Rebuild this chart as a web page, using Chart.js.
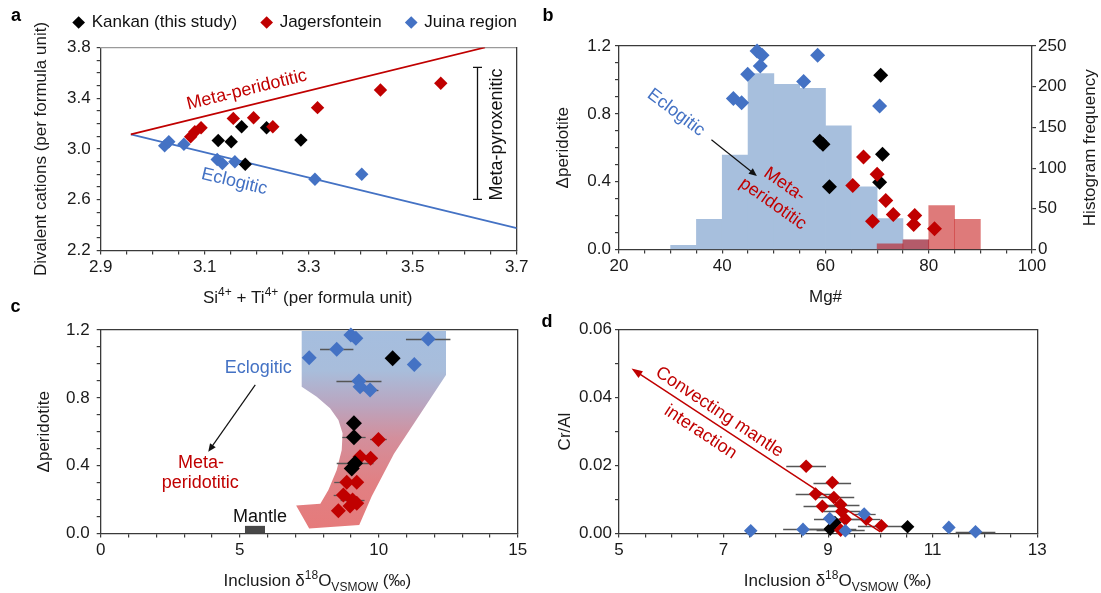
<!DOCTYPE html>
<html lang="en"><head><meta charset="utf-8"><title>Garnet inclusion figure</title>
<script src="https://cdn.jsdelivr.net/npm/chart.js@4.4.1/dist/chart.umd.min.js"></script>
<style>
html,body{margin:0;padding:0;background:#ffffff;}
body{position:relative;width:1101px;height:593px;overflow:hidden;}
canvas{position:absolute;}
</style></head><body>
<canvas id="chartA" width="591" height="310" style="left:0px;top:0px"></canvas>
<canvas id="chartB" width="571" height="310" style="left:530px;top:0px"></canvas>
<canvas id="chartC" width="550" height="293" style="left:0px;top:300px"></canvas>
<canvas id="chartD" width="571" height="293" style="left:530px;top:300px"></canvas>
<script>
// ================= DATA =================
// Panel a: Si4+ + Ti4+ vs divalent cations
const aKankanSi  = [3.126, 3.151, 3.171, 3.219, 3.285, 3.178];
const aKankanDiv = [3.067, 3.057, 3.175, 3.167, 3.070, 2.880];
const aJagerSi   = [3.073, 3.081, 3.093, 3.155, 3.194, 3.231, 3.317, 3.438, 3.554];
const aJagerDiv  = [3.096, 3.136, 3.167, 3.241, 3.246, 3.175, 3.326, 3.465, 3.518];
const aJuinaSi   = [3.023, 3.031, 3.060, 3.124, 3.134, 3.158, 3.312, 3.402];
const aJuinaDiv  = [3.025, 3.057, 3.038, 2.917, 2.885, 2.899, 2.762, 2.801];
const aMetaPeridLineSi  = [2.958, 3.639];
const aMetaPeridLineDiv = [3.115, 3.800];
const aEclogLineSi  = [2.958, 3.700];
const aEclogLineDiv = [3.115, 2.377];
const aPyroxRangeDiv = [2.603, 3.644];
const aPyroxBracketSi = 3.623;
const aXMajorTicks = [2.9, 3.1, 3.3, 3.5, 3.7];
const aYMajorTicks = [2.2, 2.6, 3.0, 3.4, 3.8];

// Panel b: Mg# vs delta-peridotite + histograms
const bKankanMg = [70.69, 58.89, 59.51, 71.04, 70.49, 60.76];
const bKankanD  = [1.027, 0.639, 0.620, 0.561, 0.397, 0.370];
const bJagerMg  = [67.36, 65.28, 70.00, 71.67, 73.13, 69.10, 77.29, 77.08, 81.11];
const bJagerD   = [0.545, 0.378, 0.443, 0.289, 0.207, 0.167, 0.201, 0.148, 0.122];
const bJuinaMg  = [46.74, 47.71, 47.36, 44.93, 58.47, 55.76, 42.15, 43.75, 70.49];
const bJuinaD   = [1.171, 1.145, 1.082, 1.033, 1.145, 0.990, 0.891, 0.866, 0.846];
const bEclogBinStart = [30, 35, 40, 45, 50, 55, 60, 65, 70, 75];
const bEclogFreq     = [5, 37, 116, 216, 203, 198, 152, 77, 38, 12];
const bPeridBinStart = [70, 75, 80, 85];
const bPeridFreq     = [7, 12, 54, 37];
const bBinWidth = 5;
const bXMajorTicks = [20, 40, 60, 80, 100];
const bYMajorTicks = [0, 0.4, 0.8, 1.2];
const bY2Ticks = [0, 50, 100, 150, 200, 250];

// Panel c: d18O vs delta-peridotite
const cKankanO   = [10.50, 9.11, 9.11, 9.15, 9.03];
const cKankanD   = [1.033, 0.650, 0.567, 0.414, 0.384];
const cKankanErr = [0, 0, 0.42, 0.66, 0];
const cJagerO    = [9.99, 9.71, 9.33, 8.85, 9.21, 8.73, 9.06, 9.21, 8.97, 8.55];
const cJagerD    = [0.555, 0.443, 0.453, 0.302, 0.302, 0.227, 0.198, 0.178, 0.162, 0.134];
const cJagerErr  = [0.30, 0.25, 0, 0.45, 0, 0.35, 0.43, 0, 0, 0];
const cJuinaO    = [7.50, 8.49, 9.00, 9.18, 11.78, 11.28, 9.29, 9.33, 9.69];
const cJuinaD    = [1.037, 1.086, 1.170, 1.151, 1.147, 0.997, 0.899, 0.866, 0.846];
const cJuinaErr  = [0, 0.60, 0, 0, 0.80, 0, 0.81, 0, 0.30];
const cMantleO = [5.19, 5.91];
const cMantleBarD = 0.045;
const cXMajorTicks = [0, 5, 10, 15];
const cYMajorTicks = [0, 0.4, 0.8, 1.2];

// Panel d: d18O vs Cr/Al
const dKankanO   = [10.52, 9.04, 9.13];
const dKankanCr  = [0.0020, 0.0013, 0.0032];
const dKankanErr = [0, 0.50, 0];
const dJagerO    = [8.58, 9.08, 8.76, 9.11, 8.89, 9.24, 9.26, 9.33, 9.73, 10.02, 9.24];
const dJagerCr   = [0.0198, 0.0150, 0.0116, 0.0106, 0.0080, 0.0085, 0.0065, 0.0042, 0.0042, 0.0023, 0.0010];
const dJagerErr  = [0.38, 0.36, 0.38, 0.39, 0.36, 0.36, 0.35, 0.34, 0.27, 0.45, 0.46];
const dJuinaO    = [7.52, 8.52, 9.03, 9.69, 9.33, 11.31, 11.82];
const dJuinaCr   = [0.0008, 0.0012, 0.0044, 0.0057, 0.0008, 0.0018, 0.0005];
const dJuinaErr  = [0, 0.38, 0.30, 0.22, 0, 0, 0.38];
const dTrendO  = [10.0, 5.24];
const dTrendCr = [0.0005, 0.0485];
const dXMajorTicks = [5, 7, 9, 11, 13];
const dYMajorTicks = [0, 0.02, 0.04, 0.06];

// ================= STYLE / HELPERS =================
const FONT = '"Liberation Sans", Arial, Helvetica, sans-serif';
Chart.defaults.font.family = FONT;
Chart.defaults.font.size = 17;
Chart.defaults.color = '#1a1a1a';
const BLACK = '#000000', RED = '#c00000', BLUE = '#4472c4', AXIS = '#3a3a3a', TXT = '#1a1a1a';

function range(min, max, step) {
  const n = Math.round((max - min) / step), out = [];
  for (let i = 0; i <= n; i++) out.push(+((min + i * step).toFixed(6)));
  return out;
}
function isMajor(v, majors) { return majors.some(m => Math.abs(m - v) < 1e-9); }
function toPts(xs, ys) { return xs.map((x, i) => ({x: x, y: ys[i]})); }

function axis(o) {
  return {
    type: 'linear', position: o.pos, min: o.min, max: o.max, offset: false,
    afterBuildTicks: s => { s.ticks = range(o.min, o.max, o.step).map(v => ({value: v})); },
    afterFit: s => { if (s.isHorizontal()) s.height = o.size; else s.width = o.size; },
    ticks: { display: true, autoSkip: false, maxRotation: 0, minRotation: 0, padding: o.pad, color: TXT,
      font: {size: 17}, callback: v => isMajor(v, o.majors) ? v.toFixed(o.dec) : '' },
    grid: { display: true, offset: false, drawOnChartArea: false, drawTicks: true, tickLength: 4,
      color: AXIS, lineWidth: 1.2, tickWidth: 1.2 },
    border: { display: true, color: AXIS, width: 1.3 },
    title: o.title ? { display: true, text: o.title, color: TXT, font: {size: 17},
      padding: {top: o.tpad, bottom: o.tpad} } : { display: false }
  };
}
function frame(pos, size, color) {
  return {
    type: 'linear', position: pos, axis: (pos === 'top' || pos === 'bottom') ? 'x' : 'y',
    min: 0, max: 1, display: true, offset: false,
    afterFit: s => { if (s.isHorizontal()) s.height = size; else s.width = size; },
    ticks: { display: false }, grid: { display: false, drawTicks: false, drawOnChartArea: false },
    border: { display: true, color: color || AXIS, width: 1.3 }, title: { display: false }
  };
}
function scatterSet(label, xs, ys, color, r, order, err) {
  return { type: 'scatter', label: label, data: toPts(xs, ys), backgroundColor: color, borderColor: color,
    borderWidth: 0, pointStyle: 'rectRot', pointRadius: r, pointHoverRadius: r, order: order,
    clip: false, xAxisID: 'x', yAxisID: 'y', xErr: err || null };
}
function txt(ctx, s, x, y, o) {
  o = o || {};
  ctx.save(); ctx.translate(x, y); if (o.rot) ctx.rotate(o.rot * Math.PI / 180);
  ctx.font = (o.bold ? 'bold ' : '') + (o.size || 17) + 'px ' + FONT;
  ctx.fillStyle = o.color || TXT; ctx.textAlign = o.align || 'center'; ctx.textBaseline = 'middle';
  ctx.fillText(s, 0, 0); ctx.restore();
}
function rich(ctx, pieces, cx, cy) {
  ctx.save(); ctx.fillStyle = TXT; ctx.textBaseline = 'alphabetic'; ctx.textAlign = 'left';
  let w = 0;
  pieces.forEach(p => { ctx.font = p.s + 'px ' + FONT; p.w = ctx.measureText(p.t).width; w += p.w; });
  let x = cx - w / 2; const base = cy + 6;
  pieces.forEach(p => { ctx.font = p.s + 'px ' + FONT; ctx.fillText(p.t, x, base + (p.dy || 0)); x += p.w; });
  ctx.restore();
}
function arrow(ctx, x1, y1, x2, y2, color, lw, hl, hw) {
  const a = Math.atan2(y2 - y1, x2 - x1), c = Math.cos(a), s = Math.sin(a);
  ctx.save(); ctx.strokeStyle = color; ctx.fillStyle = color; ctx.lineWidth = lw;
  ctx.beginPath(); ctx.moveTo(x1, y1); ctx.lineTo(x2 - c * hl * 0.7, y2 - s * hl * 0.7); ctx.stroke();
  ctx.beginPath(); ctx.moveTo(x2, y2);
  ctx.lineTo(x2 - hl * c + hw * s, y2 - hl * s - hw * c);
  ctx.lineTo(x2 - hl * c - hw * s, y2 - hl * s + hw * c);
  ctx.closePath(); ctx.fill(); ctx.restore();
}
function drawErr(chart) {
  const ctx = chart.ctx, xs = chart.scales.x, ys = chart.scales.y;
  ctx.save(); ctx.strokeStyle = '#555555'; ctx.lineWidth = 1.3;
  chart.data.datasets.forEach(ds => {
    if (!ds.xErr) return;
    ds.data.forEach((p, i) => {
      const e = ds.xErr[i]; if (!e) return;
      const y = Math.round(ys.getPixelForValue(p.y)) + 0.5;
      ctx.beginPath(); ctx.moveTo(xs.getPixelForValue(p.x - e), y); ctx.lineTo(xs.getPixelForValue(p.x + e), y); ctx.stroke();
    });
  });
  ctx.restore();
}
const baseOpts = { responsive: false, maintainAspectRatio: false, animation: false, events: [], devicePixelRatio: 1 };
const deltaTitle = () => [{t: 'Inclusion \u03b4', s: 17}, {t: '18', s: 12, dy: -7}, {t: 'O', s: 17},
  {t: 'VSMOW', s: 12, dy: 5}, {t: ' (\u2030)', s: 17}];

// ================= PANEL A =================
new Chart(document.getElementById('chartA'), {
  type: 'scatter',
  data: { datasets: [
    scatterSet('Kankan (this study)', aKankanSi, aKankanDiv, BLACK, 6.7, 1.3),
    scatterSet('Jagersfontein', aJagerSi, aJagerDiv, RED, 6.7, 1.1),
    scatterSet('Juina region', aJuinaSi, aJuinaDiv, BLUE, 6.7, 1.2),
    { type: 'line', label: '', data: toPts(aMetaPeridLineSi, aMetaPeridLineDiv), borderColor: RED, borderWidth: 1.8,
      pointRadius: 0, fill: false, tension: 0, order: 2, xAxisID: 'x', yAxisID: 'y' },
    { type: 'line', label: '', data: toPts(aEclogLineSi, aEclogLineDiv), borderColor: BLUE, borderWidth: 1.8,
      pointRadius: 0, fill: false, tension: 0, order: 2, xAxisID: 'x', yAxisID: 'y' }
  ]},
  options: Object.assign({}, baseOpts, {
    layout: { padding: { top: -11, left: 0, right: 0, bottom: 0 } },
    plugins: {
      legend: { display: true, position: 'top', align: 'center',
        labels: { usePointStyle: true, pointStyle: 'rectRot', boxWidth: 9, boxHeight: 9, padding: 25,
          color: '#111111', font: {size: 17}, filter: it => !!it.text, sort: (p, q) => p.datasetIndex - q.datasetIndex } },
      tooltip: { enabled: false }
    },
    scales: {
      x: axis({pos: 'bottom', min: 2.9, max: 3.7, step: 0.05, majors: aXMajorTicks, dec: 1, size: 59.5, pad: 3}),
      y: axis({pos: 'left', min: 2.2, max: 3.8, step: 0.1, majors: aYMajorTicks, dec: 1, size: 100.7, pad: 6,
        title: 'Divalent cations (per formula unit)', tpad: 31.2}),
      xTop: frame('top', 6.5, '#9a9a9a'),
      yRight: frame('right', 74.3)
    }
  }),
  plugins: [{
    id: 'annoA',
    afterDatasetsDraw(c) {
      const ctx = c.ctx, X = v => c.scales.x.getPixelForValue(v), Y = v => c.scales.y.getPixelForValue(v);
      const bx = Math.round(X(aPyroxBracketSi)) + 0.5, y1 = Y(aPyroxRangeDiv[1]), y2 = Y(aPyroxRangeDiv[0]);
      ctx.save(); ctx.strokeStyle = '#111'; ctx.lineWidth = 1.3; ctx.beginPath();
      ctx.moveTo(bx, y1); ctx.lineTo(bx, y2);
      ctx.moveTo(bx - 4.5, y1); ctx.lineTo(bx + 4.5, y1); ctx.moveTo(bx - 4.5, y2); ctx.lineTo(bx + 4.5, y2);
      ctx.stroke(); ctx.restore();
      txt(ctx, 'Meta-pyroxenitic', X(3.662), Y(3.114), {rot: -90, size: 18, color: '#111'});
      txt(ctx, 'Meta-peridotitic', X(3.181), Y(3.465), {rot: -13.8, size: 18, color: RED});
      txt(ctx, 'Eclogitic', X(3.157), Y(2.742), {rot: 13.6, size: 18, color: BLUE});
    },
    afterDraw(c) {
      txt(c.ctx, 'a', 16, 16, {bold: true, size: 18, color: '#000'});
      rich(c.ctx, [{t: 'Si', s: 17}, {t: '4+', s: 12, dy: -7}, {t: ' + Ti', s: 17}, {t: '4+', s: 12, dy: -7},
        {t: ' (per formula unit)', s: 17}], 307.7, 297);
    }
  }]
});

// ================= PANEL B =================
new Chart(document.getElementById('chartB'), {
  type: 'scatter',
  data: { datasets: [
    scatterSet('Kankan (this study)', bKankanMg, bKankanD, BLACK, 7.5, 1.3),
    scatterSet('Jagersfontein', bJagerMg, bJagerD, RED, 7.5, 1.1),
    scatterSet('Juina region', bJuinaMg, bJuinaD, BLUE, 7.5, 1.2),
    { type: 'bar', label: 'Eclogitic frequency',
      data: bEclogBinStart.map((s, i) => ({x: s + bBinWidth / 2, y: bEclogFreq[i]})),
      backgroundColor: '#a7bfdd', borderWidth: 0, barPercentage: 1, categoryPercentage: 1, grouped: false,
      order: 3, xAxisID: 'x', yAxisID: 'y2' },
    { type: 'bar', label: 'Peridotitic frequency',
      data: bPeridBinStart.map((s, i) => ({x: s + bBinWidth / 2, y: bPeridFreq[i]})),
      backgroundColor: 'rgba(192,0,0,0.52)', borderWidth: 0, barPercentage: 1, categoryPercentage: 1, grouped: false,
      order: 2, xAxisID: 'x', yAxisID: 'y2' }
  ]},
  options: Object.assign({}, baseOpts, {
    layout: { padding: 0 },
    plugins: { legend: { display: false }, tooltip: { enabled: false } },
    scales: {
      x: axis({pos: 'bottom', min: 20, max: 100, step: 5, majors: bXMajorTicks, dec: 0, size: 60.5, pad: 3,
        title: 'Mg#', tpad: 2.8}),
      y: axis({pos: 'left', min: 0, max: 1.2, step: 0.1, majors: bYMajorTicks, dec: 1, size: 89, pad: 4,
        title: '\u0394peridotite', tpad: 23.1}),
      y2: axis({pos: 'right', min: 0, max: 250, step: 50, majors: bY2Ticks, dec: 0, size: 69, pad: 2}),
      xTop: frame('top', 46)
    }
  }),
  plugins: [{
    id: 'annoB',
    afterDatasetsDraw(c) {
      const ctx = c.ctx, X = v => c.scales.x.getPixelForValue(v), Y = v => c.scales.y.getPixelForValue(v);
      txt(ctx, 'Eclogitic', X(31.04), Y(0.807), {rot: 37, size: 18, color: BLUE});
      arrow(ctx, X(37.9), Y(0.647), X(46.71), Y(0.434), '#111', 1.2, 8, 3.5);
      txt(ctx, 'Meta-', X(52.06), Y(0.383), {rot: 35, size: 18, color: RED});
      txt(ctx, 'peridotitic', X(49.83), Y(0.269), {rot: 35, size: 18, color: RED});
    },
    afterDraw(c) {
      const a = c.chartArea;
      txt(c.ctx, 'b', 18, 16, {bold: true, size: 18, color: '#000'});
      txt(c.ctx, 'Histogram frequency', 560.3, (a.top + a.bottom) / 2, {rot: -90, size: 17});
    }
  }]
});

// ================= PANEL C =================
const cArrowOutline = [[7.23, 1.2], [12.42, 1.2], [12.42, 0.935], [10.55, 0.47], [9.75, 0.22], [9.3, 0.05],
  [7.5, 0.03], [7.03, 0.165], [7.9, 0.175], [8.19, 0.256], [8.49, 0.374], [8.67, 0.492], [8.70, 0.591],
  [8.55, 0.669], [8.25, 0.738], [7.77, 0.807], [7.23, 0.866]];
new Chart(document.getElementById('chartC'), {
  type: 'scatter',
  data: { datasets: [
    scatterSet('Kankan (this study)', cKankanO, cKankanD, BLACK, 8, 1.0, cKankanErr),
    scatterSet('Jagersfontein', cJagerO, cJagerD, RED, 7.5, 1.1, cJagerErr),
    scatterSet('Juina region', cJuinaO, cJuinaD, BLUE, 7.5, 1.2, cJuinaErr)
  ]},
  options: Object.assign({}, baseOpts, {
    layout: { padding: 0 },
    plugins: { legend: { display: false }, tooltip: { enabled: false } },
    scales: {
      x: axis({pos: 'bottom', min: 0, max: 15, step: 1, majors: cXMajorTicks, dec: 0, size: 59.5, pad: 3}),
      y: axis({pos: 'left', min: 0, max: 1.2, step: 0.1, majors: cYMajorTicks, dec: 1, size: 100.7, pad: 7,
        title: '\u0394peridotite', tpad: 34.6}),
      xTop: frame('top', 30),
      yRight: frame('right', 32.3)
    }
  }),
  plugins: [{
    id: 'annoC',
    beforeDatasetsDraw(c) {
      const ctx = c.ctx, X = v => c.scales.x.getPixelForValue(v), Y = v => c.scales.y.getPixelForValue(v), a = c.chartArea;
      ctx.save(); ctx.beginPath(); ctx.rect(a.left, a.top + 1, a.right - a.left, a.bottom - a.top - 1); ctx.clip();
      const g = ctx.createLinearGradient(0, Y(1.2), 0, Y(0));
      g.addColorStop(0, '#a5bedf'); g.addColorStop(0.2, '#a8bddb'); g.addColorStop(0.37, '#baa5bf');
      g.addColorStop(0.53, '#d38f9c'); g.addColorStop(0.75, '#e18083'); g.addColorStop(1, '#e67a7a');
      ctx.fillStyle = g; ctx.beginPath();
      cArrowOutline.forEach((p, i) => { if (i) ctx.lineTo(X(p[0]), Y(p[1])); else ctx.moveTo(X(p[0]), Y(p[1])); });
      ctx.closePath(); ctx.fill(); ctx.restore();
      ctx.save(); ctx.fillStyle = '#474747';
      ctx.fillRect(X(cMantleO[0]), Y(cMantleBarD), X(cMantleO[1]) - X(cMantleO[0]), Y(0) - Y(cMantleBarD));
      ctx.restore();
      drawErr(c);
    },
    afterDatasetsDraw(c) {
      const ctx = c.ctx, X = v => c.scales.x.getPixelForValue(v), Y = v => c.scales.y.getPixelForValue(v);
      txt(ctx, 'Eclogitic', X(5.67), Y(0.978), {size: 18, color: BLUE});
      arrow(ctx, X(5.56), Y(0.876), X(3.87), Y(0.482), '#111', 1.2, 8, 3.5);
      txt(ctx, 'Meta-', X(3.61), Y(0.417), {size: 18, color: RED});
      txt(ctx, 'peridotitic', X(3.58), Y(0.296), {size: 18, color: RED});
      txt(ctx, 'Mantle', X(5.73), Y(0.095), {size: 18, color: '#111'});
    },
    afterDraw(c) {
      txt(c.ctx, 'c', 15.5, 7, {bold: true, size: 18, color: '#000'});
      rich(c.ctx, deltaTitle(), 317.3, 280);
    }
  }]
});

// ================= PANEL D =================
new Chart(document.getElementById('chartD'), {
  type: 'scatter',
  data: { datasets: [
    scatterSet('Kankan (this study)', dKankanO, dKankanCr, BLACK, 6.8, 1.2, dKankanErr),
    scatterSet('Jagersfontein', dJagerO, dJagerCr, RED, 6.8, 1.1, dJagerErr),
    scatterSet('Juina region', dJuinaO, dJuinaCr, BLUE, 6.8, 1.0, dJuinaErr)
  ]},
  options: Object.assign({}, baseOpts, {
    layout: { padding: 0 },
    plugins: { legend: { display: false }, tooltip: { enabled: false } },
    scales: {
      x: axis({pos: 'bottom', min: 5, max: 13, step: 0.5, majors: dXMajorTicks, dec: 0, size: 59.5, pad: 3}),
      y: axis({pos: 'left', min: 0, max: 0.06, step: 0.01, majors: dYMajorTicks, dec: 2, size: 89, pad: 3,
        title: 'Cr/Al', tpad: 24.8}),
      xTop: frame('top', 29.5),
      yRight: frame('right', 63.8)
    }
  }),
  plugins: [{
    id: 'annoD',
    beforeDatasetsDraw(c) { drawErr(c); },
    afterDatasetsDraw(c) {
      const ctx = c.ctx, X = v => c.scales.x.getPixelForValue(v), Y = v => c.scales.y.getPixelForValue(v);
      arrow(ctx, X(dTrendO[0]), Y(dTrendCr[0]), X(dTrendO[1]), Y(dTrendCr[1]), RED, 1.5, 11, 4);
      txt(ctx, 'Convecting mantle', X(6.92), Y(0.0357), {rot: 33.5, size: 18, color: RED});
      txt(ctx, 'interaction', X(6.56), Y(0.0298), {rot: 33.5, size: 18, color: RED});
    },
    afterDraw(c) {
      txt(c.ctx, 'd', 17, 21.7, {bold: true, size: 18, color: '#000'});
      rich(c.ctx, deltaTitle(), 307.6, 280);
    }
  }]
});
</script>
</body></html>
